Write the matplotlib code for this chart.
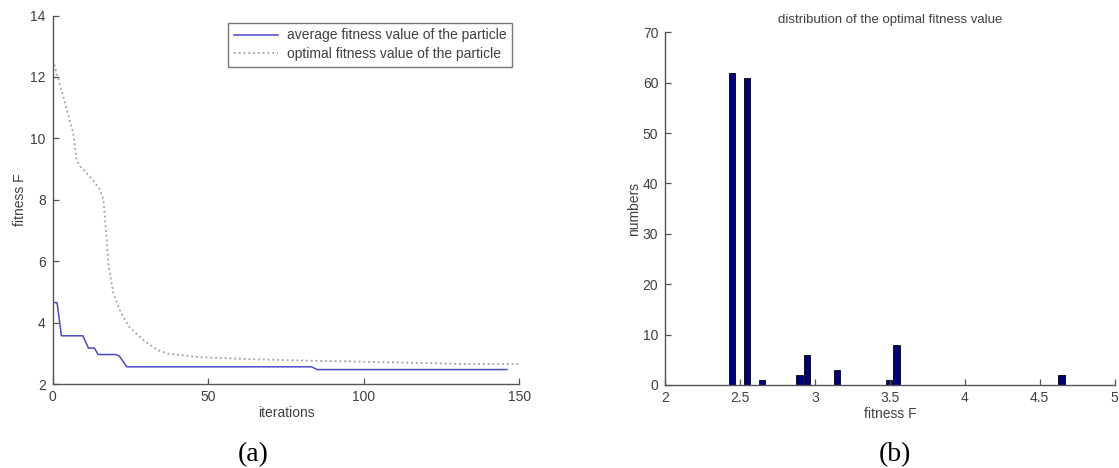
#!/usr/bin/env python3
"""Recreate the two-panel fitness figure: convergence curves (a) and
histogram of the optimal fitness value (b)."""

import matplotlib
matplotlib.use("Agg")
import matplotlib.pyplot as plt

# ---- data ----
# (a) average fitness value of the particle (stepwise curve vertices)
avg_iter = [0.5, 1.4, 2.8, 9.7, 11.5, 13.4, 14.6, 20.3, 21.5, 23.8, 83.2, 85.0, 146.0]
avg_fit = [4.65, 4.65, 3.57, 3.57, 3.17, 3.17, 2.96, 2.96, 2.90, 2.56, 2.56, 2.47, 2.47]

# (a) optimal fitness value of the particle
opt_iter = [0.5, 3.7, 6.6, 7.7, 8.9, 12.9, 15.2, 16.3, 17.2, 18.0, 19.5, 21.5,
            24.4, 29.0, 33.6, 37.0, 40.5, 47.4, 63.4, 81.8, 97.9, 121.0, 132.0, 150.0]
opt_fit = [12.4, 11.25, 10.17, 9.3, 9.08, 8.65, 8.33, 8.0, 6.9, 5.83, 4.96, 4.42,
           3.88, 3.44, 3.11, 2.99, 2.95, 2.87, 2.81, 2.76, 2.73, 2.68, 2.65, 2.65]

# (b) histogram of the optimal fitness value
bin_centers = [2.445, 2.545, 2.645, 2.895, 2.945, 3.145, 3.495, 3.545, 4.645]
bin_counts = [62, 61, 1, 2, 6, 3, 1, 8, 2]

AX_COLOR = "#555555"
TXT_COLOR = "#404040"
FONT = "Liberation Sans"

plt.rcParams["font.family"] = FONT
plt.rcParams["font.size"] = 10


def style_axes(ax):
    for side in ("top", "right"):
        ax.spines[side].set_visible(False)
    for side in ("left", "bottom"):
        ax.spines[side].set_color(AX_COLOR)
        ax.spines[side].set_linewidth(1.0)
    ax.tick_params(direction="in", length=4, width=0.9, color=AX_COLOR,
                   labelcolor=TXT_COLOR, labelsize=10)
    ax.tick_params(axis="y", pad=5)
    ax.tick_params(axis="x", pad=4)


fig = plt.figure(figsize=(11.19, 4.68), dpi=100)
W, H = 1119, 468

# ---------------- (a) ----------------
ax1 = fig.add_axes([52.7 / W, (H - 384) / H, (519.3 - 52.7) / W, (384 - 15.5) / H])
ax1.plot(avg_iter, avg_fit, color="#4a4ac8", lw=1.1,
         label="average fitness value of the particle")
ax1.plot(opt_iter, opt_fit, color="#a0a0a0", lw=1.3, ls=":",
         label="optimal fitness value of the particle")
ax1.set_xlim(0, 150)
ax1.set_ylim(2, 14)
ax1.set_xticks([0, 50, 100, 150])
ax1.set_yticks([2, 4, 6, 8, 10, 12, 14])
style_axes(ax1)
ax1.set_xlabel("iterations", color=TXT_COLOR, fontsize=10, labelpad=2)
ax1.set_ylabel("fitness F", color=TXT_COLOR, fontsize=10, labelpad=2)
leg = ax1.legend(loc="upper right", bbox_to_anchor=(0.984, 0.98), fontsize=10,
                 frameon=True, fancybox=False, handlelength=3.2,
                 borderaxespad=0, borderpad=0.4, labelspacing=0.35,
                 handletextpad=0.6)
leg.get_frame().set_edgecolor(AX_COLOR)
leg.get_frame().set_linewidth(1.0)
for t in leg.get_texts():
    t.set_color(TXT_COLOR)

# ---------------- (b) ----------------
ax2 = fig.add_axes([665.3 / W, (H - 385) / H, (1114.6 - 665.3) / W, (385 - 32.3) / H])
ax2.bar(bin_centers, bin_counts, width=0.043, color="#00007f",
        edgecolor="#000000", linewidth=0.6)
ax2.set_xlim(2, 5)
ax2.set_ylim(0, 70)
ax2.set_xticks([2, 2.5, 3, 3.5, 4, 4.5, 5])
ax2.set_xticklabels(["2", "2.5", "3", "3.5", "4", "4.5", "5"])
ax2.set_yticks(range(0, 71, 10))
style_axes(ax2)
ax2.set_xlabel("fitness F", color=TXT_COLOR, fontsize=10, labelpad=2)
ax2.set_ylabel("numbers", color=TXT_COLOR, fontsize=10, labelpad=1)
ax2.set_title("distribution of the optimal fitness value", color=TXT_COLOR,
              fontsize=9.5, pad=7)

# captions
fig.text(253 / W, 1 - 455 / H, "(a)", ha="center", va="center",
         fontsize=20, family="Liberation Serif", color="black")
fig.text(895 / W, 1 - 455 / H, "(b)", ha="center", va="center",
         fontsize=20, family="Liberation Serif", color="black")

fig.savefig("out.png", dpi=100, facecolor="white")
